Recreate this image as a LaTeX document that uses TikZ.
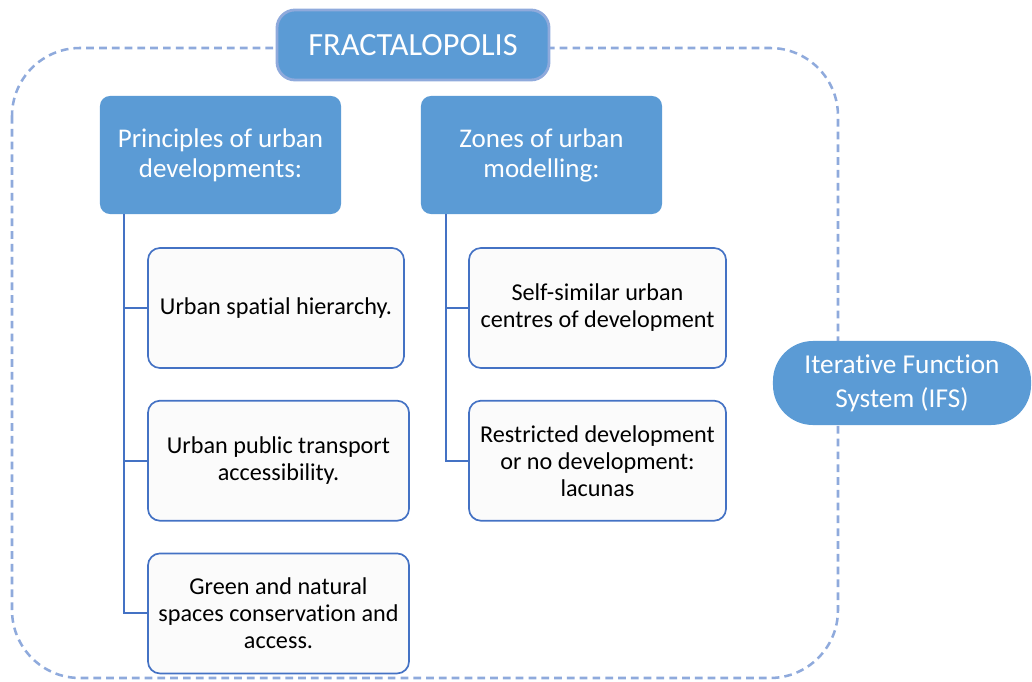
\documentclass[tikz,border=0pt]{standalone}
\usepackage{fontspec}
\setmainfont{Carlito}[Ligatures=NoCommon]
\usetikzlibrary{positioning}
\usetikzlibrary{calc}
\definecolor{boxblue}{HTML}{5B9BD5}
\definecolor{lineblue}{HTML}{4472C4}
\definecolor{frameblue}{HTML}{8FAADC}
\tikzstyle{frame} = [draw=frameblue, line width=1.8pt, dash pattern=on 5.5pt off 3.6pt, rounded corners=1.7cm]
\tikzstyle{title} = [fill=boxblue, draw=frameblue, line width=2pt, rounded corners=0.45cm, text=white, minimum width=6.8cm, minimum height=1.75cm, font=\fontsize{23}{27}\selectfont]
\tikzstyle{head} = [fill=boxblue, rounded corners=0.25cm, text=white, align=center, minimum width=6.025cm, minimum height=2.95cm, font=\fontsize{19.2}{21.3}\selectfont]
\tikzstyle{item} = [draw=lineblue, fill=gray!3, line width=1.2pt, rounded corners=0.3cm, align=center, minimum height=3cm, font=\fontsize{17.2}{19.2}\selectfont]
\tikzstyle{ifs} = [fill=boxblue, rounded corners=1cm, text=white, align=center, minimum width=6.45cm, minimum height=2.1cm, font=\fontsize{19.4}{24.2}\selectfont]
\tikzstyle{branch} = [draw=lineblue, line width=1.4pt]

\begin{document}
\begin{tikzpicture}[x=0.025cm, y=-0.025cm]
    \useasboundingbox (0,0) rectangle (1032,682);
    \draw[frame] (12,48) rectangle (838,678);

    \node[title] (fractal) at (413,45) {FRACTALOPOLIS};
    \node[head] (princ) at (220.5,155) {Principles of urban\\developments:};
    \node[head] (zones) at (541.5,155) {Zones of urban\\modelling:};

    % principles
    \node[item, minimum width=6.4cm] (hier) at (276,308) {Urban spatial hierarchy.};
    \node[item, minimum width=6.525cm, below=0.775cm of hier.south west, anchor=north west] (trans) {Urban public transport\\accessibility.};
    \node[item, minimum width=6.525cm, below=0.775cm of trans] (green) {Green and natural\\spaces conservation and\\access.};

    % zones
    \node[item, minimum width=6.425cm] (selfsim) at (597.5,308) {Self-similar urban\\centres of development};
    \node[item, minimum width=6.425cm, below=0.775cm of selfsim] (lacuna) {Restricted development\\or no development:\\lacunas};

    \node[ifs] (ifs) at (902,383) {Iterative Function\\System (IFS)};

    \coordinate (ltrunk) at ($(princ.south west)+(24,0)$);
    \coordinate (rtrunk) at ($(zones.south west)+(25,0)$);
    \draw[branch] (ltrunk) |- (green.west);
    \draw[branch] (ltrunk) |- (hier.west);
    \draw[branch] (ltrunk) |- (trans.west);
    \draw[branch] (rtrunk) |- (lacuna.west);
    \draw[branch] (rtrunk) |- (selfsim.west);
\end{tikzpicture}
\end{document}
